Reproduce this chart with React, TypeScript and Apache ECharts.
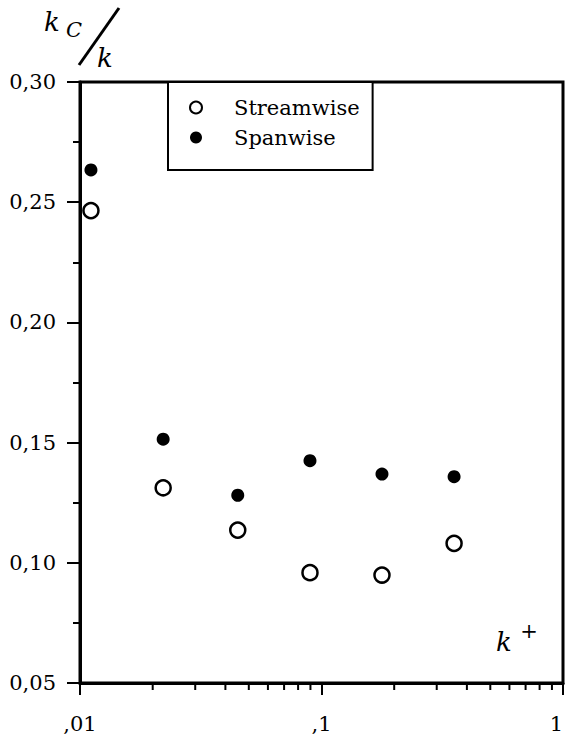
import React, { useEffect, useRef } from "react";
import * as echarts from "echarts";

const seriesNames = ["Streamwise", "Spanwise"];
const kPlus = [0.0111, 0.0221, 0.045, 0.0896, 0.178, 0.354];
const streamwise = [0.2465, 0.1312, 0.1136, 0.0959, 0.0949, 0.1081];
const spanwise = [0.2634, 0.1514, 0.1281, 0.1425, 0.1369, 0.1358];
const xTickLabels: Record<string, string> = { "-2": ",01", "-1": ",1", "0": "1" };
const yTickLabels = ["0,05", "0,10", "0,15", "0,20", "0,25", "0,30"];
const xMinorTicks = [0.02, 0.03, 0.04, 0.05, 0.06, 0.07, 0.08, 0.09, 0.2, 0.3, 0.4, 0.5, 0.6, 0.7, 0.8, 0.9];

const FONT = "DejaVu Serif";

export default function App() {
  const ref = useRef<HTMLDivElement>(null);
  useEffect(() => {
    document.body.style.margin = "0";
    const chart = echarts.init(ref.current!, null, { renderer: "svg" });
    const option: any = {
      animation: false,
      backgroundColor: "#fff",
      textStyle: { fontFamily: FONT },
      grid: {
        left: 80,
        top: 82,
        right: 5,
        bottom: 56,
        outerBoundsMode: "none",
        containLabel: false,
        show: true,
        borderColor: "#000",
        borderWidth: 3,
        backgroundColor: "transparent",
      },
      legend: {
        orient: "vertical",
        left: 168,
        top: 82,
        backgroundColor: "#fff",
        borderColor: "#000",
        borderWidth: 2,
        borderRadius: 0,
        padding: [15, 13, 22, 21],
        itemGap: 9,
        itemWidth: 12,
        itemHeight: 12,
        textStyle: { fontFamily: FONT, fontSize: 21, color: "#000", padding: [0, 0, 0, 27] },
        data: [
          { name: seriesNames[0], icon: "circle", itemStyle: { color: "#fff", borderColor: "#000", borderWidth: 2 } },
          { name: seriesNames[1], icon: "circle", itemStyle: { color: "#000", borderWidth: 0 } },
        ],
      },
      xAxis: {
        type: "log",
        logBase: 10,
        min: 0.01,
        max: 1,
        axisLine: { show: true, onZero: false, lineStyle: { color: "#000", width: 3 } },
        axisTick: { show: true, length: 12, lineStyle: { color: "#000", width: 2 } },
        splitLine: { show: false },
        axisLabel: {
          fontFamily: FONT,
          fontSize: 21,
          color: "#000",
          margin: 30,
          alignMaxLabel: "right",
          formatter: (v: number) => xTickLabels[String(Math.round(Math.log10(v)))] ?? "",
        },
      },
      yAxis: {
        type: "value",
        min: 0.05,
        max: 0.3,
        interval: 0.05,
        axisLine: { show: true, onZero: false, lineStyle: { color: "#000", width: 3 } },
        axisTick: { show: true, length: 13, lineStyle: { color: "#000", width: 2 } },
        minorTick: { show: true, splitNumber: 2, length: 7, lineStyle: { color: "#000", width: 2 } },
        splitLine: { show: false },
        axisLabel: {
          fontFamily: FONT,
          fontSize: 21,
          color: "#000",
          margin: 24,
          padding: [10, 0, 0, 0],
          formatter: (v: number) => yTickLabels[Math.round((v - 0.05) / 0.05)] ?? "",
        },
      },
      series: [
        {
          name: seriesNames[0],
          type: "scatter",
          symbol: "circle",
          symbolSize: 15,
          itemStyle: { color: "#fff", borderColor: "#000", borderWidth: 2.5, opacity: 1 },
          data: kPlus.map((x, i) => [x, streamwise[i]]),
          z: 3,
        },
        {
          name: seriesNames[1],
          type: "scatter",
          symbol: "circle",
          symbolSize: 13,
          itemStyle: { color: "#000", opacity: 1 },
          data: kPlus.map((x, i) => [x, spanwise[i]]),
          z: 3,
        },
        {
          name: "minorTicks",
          type: "custom",
          silent: true,
          clip: false,
          data: xMinorTicks.map((x) => [x, 0.05]),
          renderItem: (params: any, api: any) => {
            const p = api.coord([api.value(0), api.value(1)]);
            return {
              type: "line",
              shape: { x1: p[0], y1: p[1], x2: p[0], y2: p[1] + 7 },
              style: { stroke: "#000", lineWidth: 2 },
            };
          },
        },
      ],
      graphic: [
        { type: "text", style: { text: "k", x: 44, y: 22, fontFamily: FONT, fontStyle: "italic", fontSize: 26, fill: "#000", align: "left", verticalAlign: "middle" } },
        { type: "text", style: { text: "C", x: 66, y: 30, fontFamily: FONT, fontStyle: "italic", fontSize: 21, fill: "#000", align: "left", verticalAlign: "middle" } },
        { type: "line", shape: { x1: 79, y1: 65, x2: 119, y2: 8 }, style: { stroke: "#000", lineWidth: 3 } },
        { type: "text", style: { text: "k", x: 97, y: 58, fontFamily: FONT, fontStyle: "italic", fontSize: 26, fill: "#000", align: "left", verticalAlign: "middle" } },
        { type: "text", style: { text: "k", x: 496, y: 642, fontFamily: FONT, fontStyle: "italic", fontSize: 26, fill: "#000", align: "left", verticalAlign: "middle" } },
        { type: "text", style: { text: "+", x: 529, y: 631, fontFamily: FONT, fontSize: 21, fill: "#000", align: "center", verticalAlign: "middle" } },
      ],
    };
    chart.setOption(option);
    return () => chart.dispose();
  }, []);
  return <div ref={ref} style={{ width: 568, height: 739 }} />;
}
